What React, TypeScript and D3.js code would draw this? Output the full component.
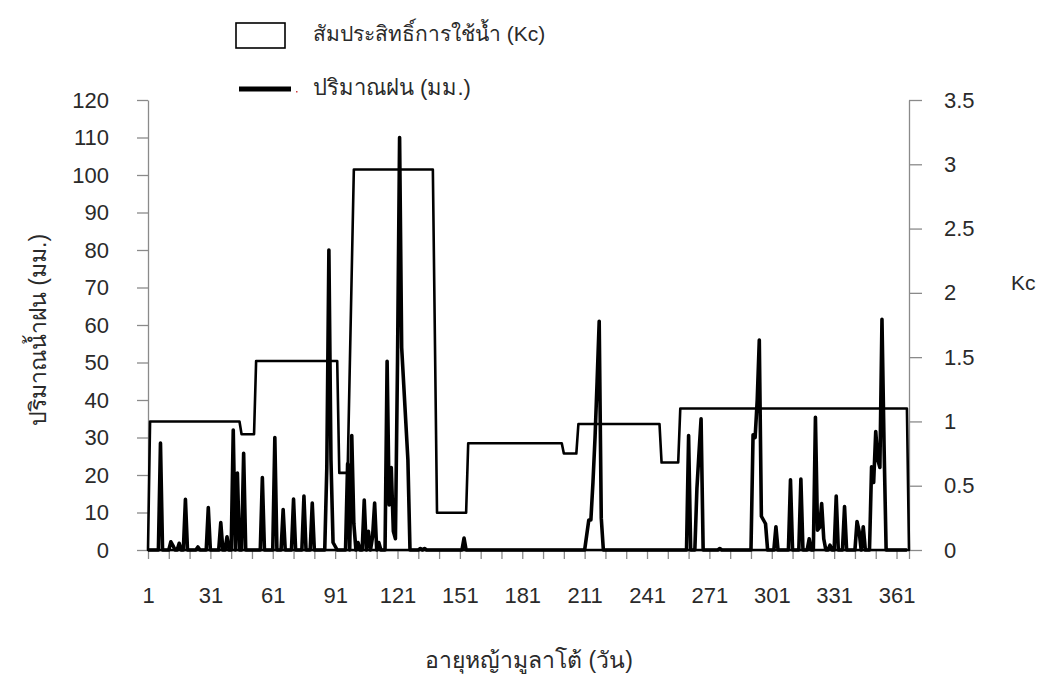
import React, { useEffect, useRef } from 'react'
import { area, axisBottom, axisLeft, axisRight, line, range, scaleLinear, select } from 'd3'

// Kc (สัมประสิทธิ์การใช้น้ำ) – breakpoints of the stage curve
const kcDays = [1, 2, 45, 46, 52, 53, 92, 93, 97, 100, 138, 140, 154, 155, 200, 201, 207, 208, 247, 248, 256, 257, 366, 367]
const kcValues = [0, 1.0, 1.0, 0.9, 0.9, 1.47, 1.47, 0.6, 0.6, 2.96, 2.96, 0.29, 0.29, 0.83, 0.83, 0.75, 0.75, 0.98, 0.98, 0.68, 0.68, 1.1, 1.1, 0]

// ปริมาณฝน (มม.) – only the rainy days, every other day is 0
const rainDays = [7, 12, 13, 16, 19, 25, 30, 36, 39, 42, 44, 47, 56, 62, 66, 71, 76, 80, 87, 88, 89, 90, 91,
  97, 99, 100, 102, 105, 107, 109, 110, 112, 116, 117, 118, 119, 120, 121, 122, 123, 124, 125, 126, 132, 134,
  153, 212, 213, 214, 215, 216, 217, 218, 219, 261, 265, 266, 267, 276, 292, 293, 294, 295, 296, 297, 298,
  303, 310, 315, 319, 322, 323, 324, 325, 326, 329, 332, 336, 342, 343, 345, 349, 350, 351, 352, 353, 354, 355]
const rainMm = [28.5, 2.2, 1.2, 1.8, 13.5, 0.8, 11.3, 7.3, 3.5, 32, 20.5, 25.8, 19.3, 30, 10.8, 13.6, 14.4, 12.5, 22, 80, 24, 2, 1,
  23, 30.5, 7, 2, 13.3, 5, 3.5, 12.5, 2, 50.3, 12, 22, 5, 3, 50, 110, 54, 44, 34, 24, 0.4, 0.4,
  3.2, 4, 8, 8, 18, 30, 45, 61, 8.5, 30.5, 16.4, 26, 35, 0.4, 30.7, 30, 40, 56, 9, 8, 7,
  6.2, 18.7, 18.9, 3, 35.4, 5.3, 6, 12.4, 3, 1.3, 14.4, 11.6, 7.6, 5, 6.2, 22.2, 18, 31.6, 24, 22, 61.5, 28]

const lastDay = 366
const rainTicks = range(0, 121, 10)
const kcTicks = [0, 0.5, 1, 1.5, 2, 2.5, 3, 3.5]
const dayTicks = range(1, 362, 10)
const dayLabels = range(1, 362, 30)

const W = 1045
const H = 675
const font = 'Liberation Sans, Arial, sans-serif'
const ink = '#2a2a2a'

const App = () => {
  const svgRef = useRef(null)

  useEffect(() => {
    const svg = select(svgRef.current)
    svg.selectAll('*').remove()

    const x = scaleLinear().domain([1, 367]).range([148, 909])
    const yRain = scaleLinear().domain([0, 120]).range([550, 100])
    const yKc = scaleLinear().domain([0, 3.5]).range([550, 100])

    const rainByDay = new Map(rainDays.map((d, i) => [d, rainMm[i]]))
    const daily = range(1, lastDay + 1).map(d => ({ day: d, mm: rainByDay.get(d) ?? 0 }))
    const kc = kcDays.map((d, i) => ({ day: d, kc: kcValues[i] }))

    // axes
    const styleAxis = g => {
      g.selectAll('path, line').attr('stroke', '#8a8a8a').attr('stroke-width', 1.3)
      g.selectAll('text').attr('fill', ink).style('font-family', font).style('font-size', '22px')
    }

    svg.append('g')
      .attr('transform', 'translate(148,0)')
      .call(axisLeft(yRain).tickValues(rainTicks).tickSize(11).tickSizeOuter(0).tickPadding(28))
      .call(styleAxis)

    svg.append('g')
      .attr('transform', 'translate(909,0)')
      .call(axisRight(yKc).tickValues(kcTicks).tickSize(13).tickSizeOuter(0).tickPadding(22).tickFormat(d => String(d)))
      .call(styleAxis)

    const xg = svg.append('g')
      .attr('transform', 'translate(0,550)')
      .call(axisBottom(x).tickValues(dayTicks.concat([367])).tickSize(9).tickSizeOuter(0).tickPadding(33)
        .tickFormat(d => (dayLabels.includes(d) ? String(d) : '')))
      .call(styleAxis)
    xg.selectAll('text').attr('dy', '0.5em')

    // Kc area (white fill, black outline)
    const kcArea = area()
      .x(d => x(d.day))
      .y0(yKc(0))
      .y1(d => yKc(d.kc))
    svg.append('path')
      .datum(kc)
      .attr('d', kcArea)
      .attr('fill', 'white')
      .attr('stroke', 'black')
      .attr('stroke-width', 2.6)
      .attr('stroke-linejoin', 'round')

    // rainfall line
    const rainLine = line()
      .x(d => x(d.day))
      .y(d => yRain(d.mm))
    svg.append('path')
      .datum(daily)
      .attr('d', rainLine)
      .attr('fill', 'none')
      .attr('stroke', 'black')
      .attr('stroke-width', 3.6)
      .attr('stroke-linejoin', 'round')

    // legend
    const lg = svg.append('g')
    lg.append('rect').attr('x', 236).attr('y', 23).attr('width', 49).attr('height', 25)
      .attr('fill', 'white').attr('stroke', 'black').attr('stroke-width', 1.6)
    lg.append('text').attr('x', 313).attr('y', 41).style('font-size', '21px').text('สัมประสิทธิ์การใช้น้ำ (Kc)')
    lg.append('line').attr('x1', 239).attr('x2', 291).attr('y1', 89).attr('y2', 89)
      .attr('stroke', 'black').attr('stroke-width', 5)
    lg.append('rect').attr('x', 296).attr('y', 91).attr('width', 1.5).attr('height', 1.5).attr('fill', '#d04040')
    lg.append('text').attr('x', 313).attr('y', 95).style('font-size', '22px').text('ปริมาณฝน (มม.)')
    lg.selectAll('text').attr('fill', ink).style('font-family', font)

    // axis titles
    svg.append('text')
      .attr('transform', 'translate(46,330) rotate(-90)')
      .attr('text-anchor', 'middle')
      .attr('fill', ink)
      .style('font-family', font).style('font-size', '23px')
      .text('ปริมาณน้ำฝน (มม.)')

    svg.append('text')
      .attr('x', 1011).attr('y', 290)
      .attr('fill', ink)
      .style('font-family', font).style('font-size', '21px')
      .text('Kc')

    svg.append('text')
      .attr('x', 529).attr('y', 668)
      .attr('text-anchor', 'middle')
      .attr('fill', ink)
      .style('font-family', font).style('font-size', '23px')
      .text('อายุหญ้ามูลาโต้ (วัน)')
  }, [])

  return (
    <svg ref={svgRef} width={W} height={H}
      style={{ position: 'absolute', left: 0, top: 0, background: 'white' }} />
  )
}

export default App
